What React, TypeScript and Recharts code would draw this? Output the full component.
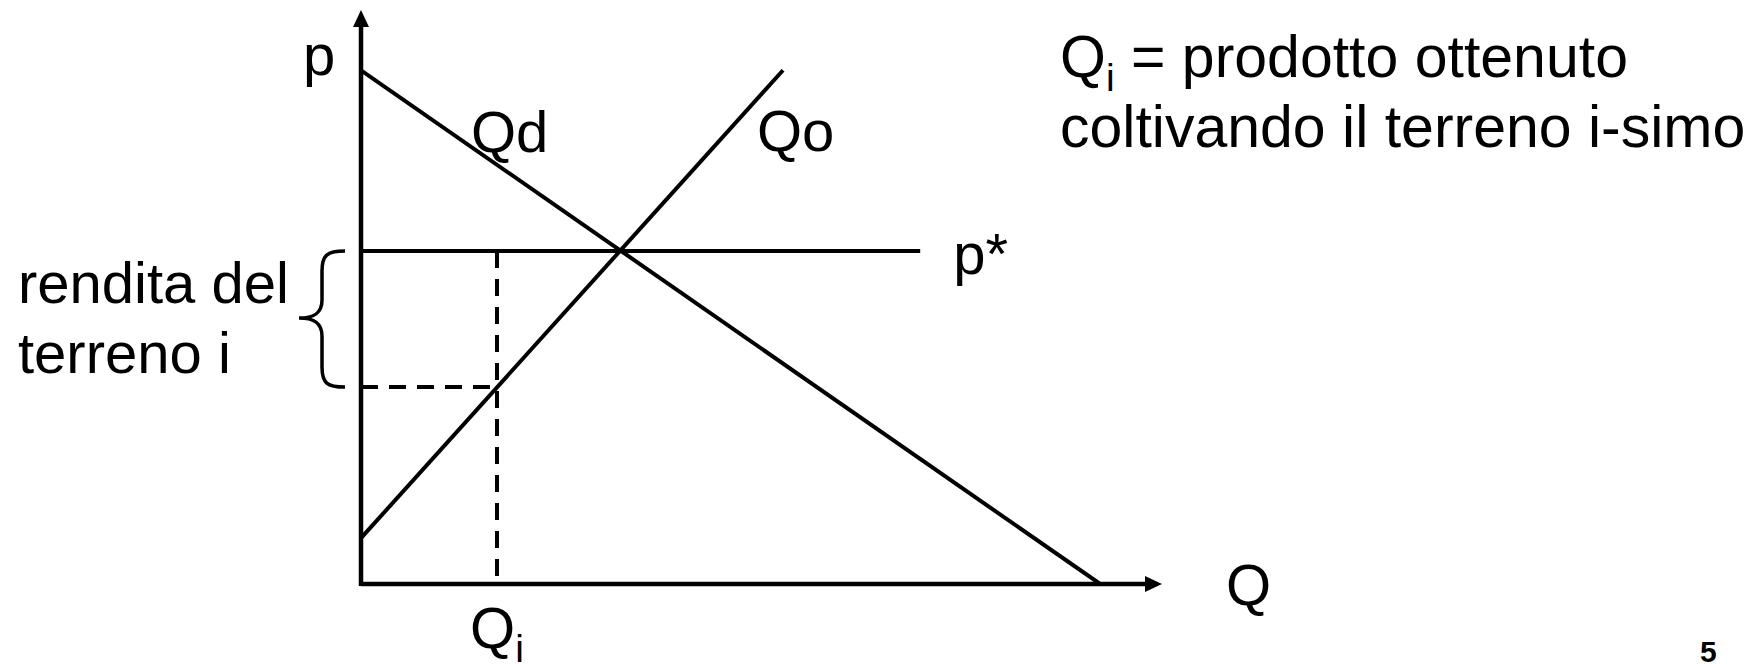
import React from 'react';
import { LineChart, Line, XAxis, YAxis, ReferenceLine, ReferenceDot } from 'recharts';

// ---- data (economic diagram, in chart units) ----
const demandQd = [
  { q: 0, p: 89.5 },
  { q: 92.4, p: 0 },
];
const supplyQo = [
  { q: 0, p: 8 },
  { q: 52.75, p: 89.5 },
];
const pStar = 58;
const pStarEnd = 69.9;
const qI = 17;
const pI = 34.3;
const axisMax = 100;

const curveLabels = ['Qd', 'Qo'];
const axisLabels = ['p', 'Q'];
const pStarLabel = 'p*';
const rentLines = ['rendita del', 'terreno i'];
const noteLines = ['prodotto ottenuto', 'coltivando il terreno i-simo'];
const pageNumber = '5';

// ---- layout ----
const W = 1756;
const H = 664;
const FONT = '"Liberation Sans", Arial, Helvetica, sans-serif';
const FS = 58;
const SUB = 39;
const INK = '#000';
const LW = 4;

const txt = (s: string, dx: number, dy: number, sub?: string) => (p: any) => (
  <text x={p.cx + dx} y={p.cy + dy} fontFamily={FONT} fontSize={FS} fill={INK}>
    {s}
    {sub ? <tspan fontSize={SUB} dy={14}>{sub}</tspan> : null}
  </text>
);

const upArrow = (p: any) => (
  <polygon points={`${p.cx},${p.cy} ${p.cx - 8},${p.cy + 17} ${p.cx + 8},${p.cy + 17}`} fill={INK} />
);
const rightArrow = (p: any) => (
  <polygon points={`${p.cx + 1},${p.cy} ${p.cx - 16},${p.cy - 8} ${p.cx - 16},${p.cy + 8}`} fill={INK} />
);

const brace = (p: any) => {
  const x = p.x1;
  const y1 = Math.min(p.y1, p.y2);
  const y2 = Math.max(p.y1, p.y2);
  const ym = (y1 + y2) / 2 - 1;
  const d = `M ${x - 16} ${y1} C ${x - 34} ${y1}, ${x - 39} ${y1 + 4}, ${x - 39} ${y1 + 20}
    L ${x - 39} ${ym - 18} C ${x - 39} ${ym - 4}, ${x - 48} ${ym}, ${x - 62} ${ym}
    C ${x - 48} ${ym}, ${x - 39} ${ym + 4}, ${x - 39} ${ym + 18}
    L ${x - 39} ${y2 - 20} C ${x - 39} ${y2 - 4}, ${x - 34} ${y2}, ${x - 16} ${y2}`;
  return <path d={d} fill="none" stroke={INK} strokeWidth={3.5} />;
};

export default function App() {
  return (
    <div style={{ position: 'absolute', left: 0, top: 0, width: W, height: H, background: '#fff' }}>
      <LineChart width={W} height={H} margin={{ top: 10, right: 595, bottom: 80, left: 361 }}>
        <XAxis type="number" dataKey="q" domain={[0, axisMax]} allowDataOverflow hide />
        <YAxis type="number" dataKey="p" domain={[0, axisMax]} allowDataOverflow hide />
        {/* axes */}
        <ReferenceLine
          segment={[{ x: 0, y: 0 }, { x: axisMax - 1.5, y: 0 }]}
          stroke={INK}
          strokeWidth={4.5}
          ifOverflow="visible"
        />
        <ReferenceLine
          segment={[{ x: 0, y: -0.35 }, { x: 0, y: axisMax - 2.5 }]}
          stroke={INK}
          strokeWidth={4.5}
          ifOverflow="visible"
        />
        <ReferenceLine
          segment={[{ x: 0, y: pStar }, { x: pStarEnd, y: pStar }]}
          stroke={INK}
          strokeWidth={LW}
          ifOverflow="visible"
        />
        <ReferenceLine
          segment={[{ x: qI, y: pStar }, { x: qI, y: 0 }]}
          stroke={INK}
          strokeWidth={LW}
          strokeDasharray="17 11"
          ifOverflow="visible"
        />
        <ReferenceLine
          segment={[{ x: 0, y: pI }, { x: qI, y: pI }]}
          stroke={INK}
          strokeWidth={LW}
          strokeDasharray="17 11"
          ifOverflow="visible"
        />
        <ReferenceLine
          segment={[{ x: 0, y: pStar }, { x: 0, y: pI }]}
          ifOverflow="visible"
          shape={brace}
        />
        <Line data={demandQd} dataKey="p" type="linear" stroke={INK} strokeWidth={LW} dot={false} isAnimationActive={false} />
        <Line data={supplyQo} dataKey="p" type="linear" stroke={INK} strokeWidth={LW} dot={false} isAnimationActive={false} />
        <ReferenceDot x={0} y={axisMax} ifOverflow="visible" shape={upArrow} />
        <ReferenceDot x={axisMax} y={0} ifOverflow="visible" shape={rightArrow} />
        <ReferenceDot x={0} y={axisMax} ifOverflow="visible" shape={txt(axisLabels[0], -58, 65)} />
        <ReferenceDot x={axisMax} y={0} ifOverflow="visible" shape={txt(axisLabels[1], 65, 21)} />
        <ReferenceDot x={demandQd[0].q} y={demandQd[0].p} ifOverflow="visible" shape={txt(curveLabels[0], 110, 82)} />
        <ReferenceDot x={supplyQo[1].q} y={supplyQo[1].p} ifOverflow="visible" shape={txt(curveLabels[1], -26, 81)} />
        <ReferenceDot x={pStarEnd} y={pStar} ifOverflow="visible" shape={txt(pStarLabel, 33, 23)} />
        <ReferenceDot x={qI} y={0} ifOverflow="visible" shape={txt('Q', -27, 64, 'i')} />
      </LineChart>
      <svg
        width={W}
        height={H}
        style={{ position: 'absolute', left: 0, top: 0, pointerEvents: 'none' }}
      >
        <text x={18} y={303} fontFamily={FONT} fontSize={FS} fill={INK}>{rentLines[0]}</text>
        <text x={18} y={373} fontFamily={FONT} fontSize={FS} fill={INK}>{rentLines[1]}</text>
        <text x={1060} y={77} fontFamily={FONT} fontSize={59} fill={INK}>
          Q<tspan fontSize={SUB} dy={14}>i</tspan>
          <tspan dy={-14}>{' = ' + noteLines[0]}</tspan>
        </text>
        <text x={1060} y={147} fontFamily={FONT} fontSize={59} fill={INK}>{noteLines[1]}</text>
        <text x={1700} y={662} fontFamily={FONT} fontSize={30} fontWeight="bold" fill={INK}>{pageNumber}</text>
      </svg>
    </div>
  );
}
